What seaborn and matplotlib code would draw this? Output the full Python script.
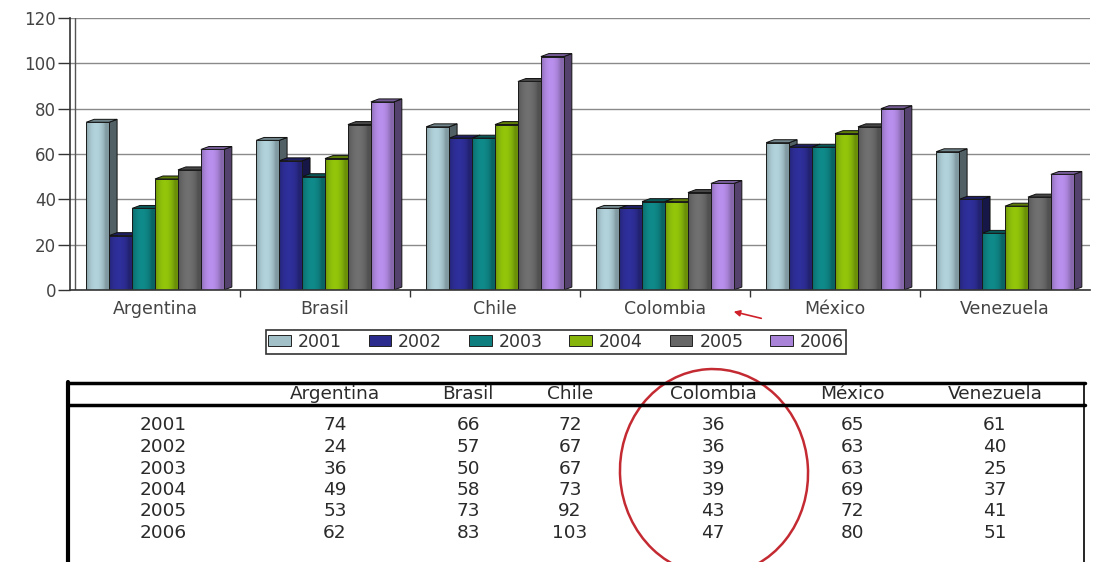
import numpy as np
import pandas as pd
import seaborn as sns
import matplotlib.pyplot as plt
import matplotlib.colors as mcolors
from matplotlib.patches import Polygon, Ellipse

countries = ['Argentina', 'Brasil', 'Chile', 'Colombia', 'México', 'Venezuela']
years = ['2001', '2002', '2003', '2004', '2005', '2006']
v2001 = [74, 66, 72, 36, 65, 61]
v2002 = [24, 57, 67, 36, 63, 40]
v2003 = [36, 50, 67, 39, 63, 25]
v2004 = [49, 58, 73, 39, 69, 37]
v2005 = [53, 73, 92, 43, 72, 41]
v2006 = [62, 83, 103, 47, 80, 51]
yticks = [0, 20, 40, 60, 80, 100, 120]

colors = ['#a2c0c8', '#2b2b8e', '#0e7e7e', '#86b40a', '#666666', '#a983d8']

rows = [v2001, v2002, v2003, v2004, v2005, v2006]
df = pd.DataFrame([(c, y, vals[i]) for y, vals in zip(years, rows) for i, c in enumerate(countries)],
                  columns=['country', 'year', 'value'])

sns.set_style('white')
plt.rcParams['font.family'] = ['DejaVu Sans']

fig = plt.figure(figsize=(10.93, 5.62), dpi=100)
ax = fig.add_axes([70 / 1093, 1 - 290 / 562, 1020 / 1093, 272 / 562])

sns.barplot(data=df, x='country', y='value', hue='year', palette=colors, width=0.81,
            saturation=1, edgecolor='#1a1a1a', linewidth=0.7, ax=ax, zorder=2)

# fake 3D: side and top faces + a shaded front, built from the drawn bars
dx, dy = 0.047, 1.3
for bar in list(ax.patches):
    x, w, h = bar.get_x(), bar.get_width(), bar.get_height()
    if h <= 0:
        continue
    base = np.array(mcolors.to_rgb(bar.get_facecolor()))
    side = Polygon([(x + w, 0), (x + w + dx, dy), (x + w + dx, h + dy), (x + w, h)],
                   closed=True, facecolor=base * 0.5, edgecolor='#111111', lw=0.7, zorder=1.5)
    top = Polygon([(x, h), (x + dx, h + dy), (x + w + dx, h + dy), (x + w, h)],
                  closed=True, facecolor=base * 0.7, edgecolor='#111111', lw=0.7, zorder=1.5)
    ax.add_patch(side)
    ax.add_patch(top)
    t = np.linspace(0, 1, 40)
    f = 0.8 + 0.3 * np.sin(np.pi * np.clip(t * 1.15, 0, 1)) ** 0.7
    grad = np.clip(base[None, :] * f[:, None], 0, 1)
    im = ax.imshow(grad[None, :, :], extent=[x, x + w, 0, h], aspect='auto', zorder=2.1,
                   interpolation='bilinear')
    im.set_clip_path(bar)
    edge = Polygon([(x, 0), (x, h), (x + w, h), (x + w, 0)], closed=True, fill=False,
                   edgecolor='#1a1a1a', lw=0.7, zorder=2.2)
    ax.add_patch(edge)

ax.set_xlim(-0.5, len(countries) - 0.5)
ax.set_ylim(0, 120)
ax.set_yticks(yticks)
ax.set_xlabel('')
ax.set_ylabel('')
ax.yaxis.grid(True, color='#8a8a8a', lw=1)
ax.set_axisbelow(True)
for s in ['top', 'right']:
    ax.spines[s].set_visible(False)
ax.spines['left'].set_color('#333333')
ax.spines['left'].set_linewidth(1.2)
ax.spines['bottom'].set_color('#333333')
ax.spines['bottom'].set_linewidth(1.2)
ax.axvline(-0.5 + 0.03, color='#555555', lw=1, zorder=0.6)
ax.tick_params(axis='y', left=True, length=9, width=1, colors='#333333', labelsize=12,
               labelcolor='#444444', pad=1)
ax.tick_params(axis='x', bottom=False, labelsize=12.5, labelcolor='#444444', pad=4)
ax.set_xticks(np.arange(0.5, len(countries) - 0.5), minor=True)
ax.tick_params(axis='x', which='minor', bottom=True, length=5, width=1, color='#333333')

leg = ax.legend(loc='center', bbox_to_anchor=(556 / 1093, 1 - 342 / 562), bbox_transform=fig.transFigure,
                ncol=6, frameon=True, fancybox=False, edgecolor='black', fontsize=12.5,
                handlelength=1.3, handleheight=0.6, handletextpad=0.4, columnspacing=1.55,
                borderpad=0.15, labelcolor='#333333')
leg.get_frame().set_linewidth(1.2)
for hnd in leg.legend_handles:
    hnd.set_edgecolor('#222222')

# table below the chart
tx = fig.add_axes([0, 0, 1, 1], facecolor='none')
tx.set_xlim(0, 1093)
tx.set_ylim(562, 0)
tx.axis('off')
col_x = [335, 468, 570, 713, 852, 995]
row_y = [425, 447, 468.5, 490, 511.5, 533]
tfont = dict(family='DejaVu Sans', fontsize=13.3, color='#2a2a2a', ha='center', va='center')
for cx, c in zip(col_x, countries):
    tx.text(cx, 394, c, **tfont)
for ry, y, vals in zip(row_y, years, rows):
    tx.text(163, ry, y, **tfont)
    for cx, v in zip(col_x, vals):
        tx.text(cx, ry, str(v), **tfont)
tx.plot([68, 1085], [383, 383], color='black', lw=2.5)
tx.plot([68, 1085], [405, 405], color='black', lw=2.5)
tx.plot([68, 68], [382, 562], color='black', lw=3)
tx.plot([1084, 1084], [383, 562], color='black', lw=1.2)

# red highlight
tx.add_patch(Ellipse((714, 472), 188, 206, angle=-4, fill=False, edgecolor='#c42a32', lw=1.8))
tx.annotate('', xy=(731, 311), xytext=(764, 319),
            arrowprops=dict(arrowstyle='-|>', color='#d0202a', lw=1.2, mutation_scale=9))

fig.savefig('out.png', dpi=100)
